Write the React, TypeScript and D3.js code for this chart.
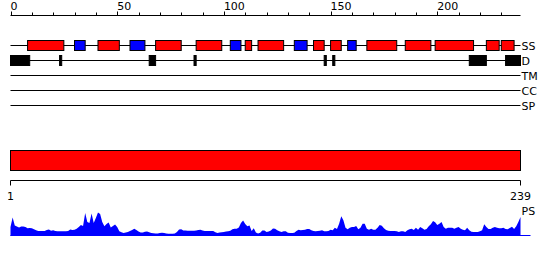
import React from "react";
import * as d3 from "d3";

const LENGTH = 239;
const axisTicks = d3.range(0, 240, 10);
const axisLabels = [0, 50, 100, 150, 200];

// secondary structure: [start, end, type]  H = helix (red), E = strand (blue)
const ssStart = [8, 30, 41, 56, 68, 87, 103, 110, 116, 133, 142, 150, 158, 167, 185, 199, 223, 230];
const ssEnd = [25, 35, 51, 63, 80, 99, 108, 113, 128, 139, 147, 155, 162, 181, 197, 217, 229, 236];
const ssType = ["H", "E", "H", "E", "H", "H", "E", "H", "H", "E", "H", "H", "E", "H", "H", "H", "H", "H"];

// disorder
const dStart = [0, 23, 65, 86, 147, 151, 215, 232];
const dEnd = [9, 24, 68, 87, 148, 152, 223, 239];

const trackLabels = ["SS", "D", "TM", "CC", "SP"];

// domain bar
const domainStart = [0];
const domainEnd = [239];
const endLabels = ["1", "239"];

// PS profile (per residue)
const psValues = [
  9, 18.5, 10.5, 9.5, 8.5, 9.5, 9.5, 9, 7.8, 8, 7.8, 6.8, 5.7, 5, 5, 5, 5, 6, 6.5, 5.2,
  5.7, 5, 4.8, 4.7, 4.7, 4.7, 4.7, 5, 6.5, 6, 6.3, 7.3, 9, 11, 10, 23, 14, 13, 22.5, 13,
  18, 23.5, 22, 14, 9.8, 12, 13.5, 8.5, 10, 11.5, 9, 4.7, 3.7, 3, 3.5, 4, 5, 6, 7.2, 6,
  4.5, 3.5, 3.5, 4.2, 4.5, 3.8, 3, 2.7, 2.4, 2.6, 3, 3.3, 3, 2.5, 2.3, 2.3, 2.3, 2.5, 4, 6.5,
  6.8, 5.6, 5.4, 5.3, 5.3, 5.3, 5.3, 5.5, 6, 6.2, 5.5, 5, 5, 5, 5, 5, 3.8, 3, 3.5, 3.8,
  4.1, 4.5, 4.8, 5.3, 6.8, 7.3, 7.3, 8.5, 13, 15.5, 12, 9.7, 10.5, 5, 7.8, 3.5, 2.5, 3.2, 5.5, 5.5,
  4, 4.6, 5.5, 7.5, 7.3, 5.7, 4.7, 4, 4.7, 4.7, 3.3, 3, 3, 3.3, 5, 6.3, 5.7, 6, 6.3, 7,
  7, 5.7, 5, 4.7, 5, 5.3, 5.7, 4.7, 4.7, 5, 6.3, 5.7, 8.3, 7, 12.3, 19.7, 15.7, 8.3, 6.7, 8.3,
  9, 9, 10, 6.7, 8.3, 12.3, 12.3, 7.3, 6.3, 7.3, 6.3, 6.3, 8.3, 11, 10.3, 7.7, 6, 5.3, 5, 5,
  5, 4.7, 4, 4.7, 4.7, 4, 5.7, 6.7, 7.3, 6, 8.3, 6.3, 9, 7.7, 6.3, 7, 9.7, 11.7, 15, 13.7,
  11, 12.3, 14, 9, 7.3, 8.3, 8.3, 8.3, 7.3, 8.3, 9, 7.3, 6.3, 5.7, 8.3, 5.7, 4.3, 4, 4, 4,
  4.7, 5.7, 11.7, 9, 7, 7, 8.3, 9, 8.3, 7.7, 7.7, 8.3, 7, 6.7, 8, 9.3, 7, 9.7, 14, 19
];

const FONT = "DejaVu Sans, Verdana, sans-serif";

export default function App() {
  const x = d3.scaleLinear().domain([0, LENGTH]).range([10.5, 520.5]);
  const rowY = d3.scalePoint<string>().domain(trackLabels).range([45.5, 105.5]);
  const psY = d3.scaleLinear().domain([0, 25]).range([236, 211]);

  const area = d3
    .area<number>()
    .x((_, i) => x(i))
    .y0(psY(0))
    .y1((d) => psY(d))
    .curve(d3.curveLinear);

  const ssY = rowY("SS")!;
  const dY = rowY("D")!;

  return (
    <svg
      width={550}
      height={260}
      style={{ position: "absolute", left: 0, top: 0, background: "#fff" }}
      fontFamily={FONT}
      fontSize={11}
    >
      {/* top axis */}
      <line x1={x(0)} x2={x(LENGTH)} y1={15.5} y2={15.5} stroke="#000" />
      {axisTicks.map((t) => (
        <line key={t} x1={Math.round(x(t)) + 0.5} x2={Math.round(x(t)) + 0.5} y1={15.5} y2={t % 50 === 0 ? 11.5 : 12.5} stroke="#000" />
      ))}
      {axisLabels.map((t) => (
        <text key={t} x={x(t)} y={10} textAnchor="start" fill="#000">
          {t}
        </text>
      ))}

      {/* track lines */}
      {trackLabels.map((lab) => (
        <g key={lab}>
          <line x1={x(0)} x2={x(LENGTH)} y1={rowY(lab)} y2={rowY(lab)} stroke="#000" />
          <text x={x(LENGTH) + 1} y={rowY(lab)! + 4} fill="#000">
            {lab}
          </text>
        </g>
      ))}

      {/* SS boxes */}
      {ssStart.map((s, i) => (
        <rect
          key={"ss" + i}
          x={x(s)}
          y={ssY - 5}
          width={x(ssEnd[i]) - x(s)}
          height={10}
          fill={ssType[i] === "H" ? "#ff0000" : "#0000ff"}
          stroke="#000"
          strokeWidth={1}
        />
      ))}

      {/* disorder boxes */}
      {dStart.map((s, i) => (
        <rect
          key={"d" + i}
          x={x(s)}
          y={dY - 5}
          width={x(dEnd[i]) - x(s)}
          height={10}
          fill="#000"
          stroke="#000"
          strokeWidth={1}
        />
      ))}

      {/* domain bar */}
      {domainStart.map((s, i) => (
        <rect
          key={"dom" + i}
          x={x(s)}
          y={150.5}
          width={x(domainEnd[i]) - x(s)}
          height={20}
          fill="#ff0000"
          stroke="#000"
          strokeWidth={1}
        />
      ))}

      {/* bottom axis */}
      <path
        d={`M${x(0)},185.5V180.5H${x(LENGTH)}V185.5`}
        fill="none"
        stroke="#000"
      />
      <text x={x(0)} y={200} textAnchor="middle" fill="#000">
        {endLabels[0]}
      </text>
      <text x={x(LENGTH)} y={200} textAnchor="middle" fill="#000">
        {endLabels[1]}
      </text>

      {/* PS profile */}
      <path d={area(psValues) || ""} fill="#0000ff" />
      <line x1={x(0)} x2={x(LENGTH) + 10} y1={235.5} y2={235.5} stroke="#0000ff" />
      <text x={x(LENGTH) + 1} y={215} fill="#000">
        PS
      </text>
    </svg>
  );
}
